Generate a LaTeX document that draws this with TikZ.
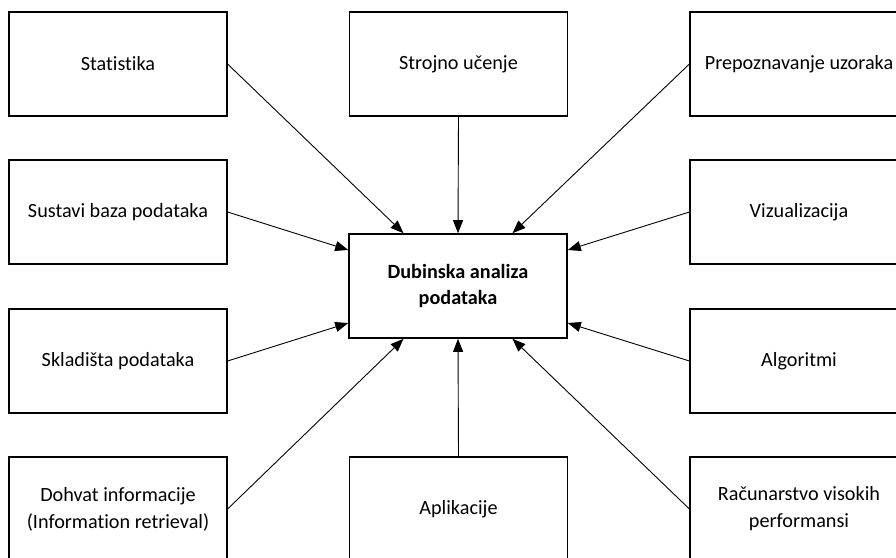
\documentclass[tikz,border=0pt]{standalone}
\usepackage{fontspec}
\setmainfont{Carlito}[Ligatures=NoCommon]
\usetikzlibrary{arrows.meta}
\begin{document}
\begin{tikzpicture}[x=1pt,y=-1pt,
  box/.style={draw,line width=1.2pt,minimum width=218pt,minimum height=104pt,inner sep=0pt,align=center,font=\fontsize{20.2}{27}\selectfont},
  conn/.style={line width=0.9pt,-{Triangle[length=13pt,width=10pt]}}]
\clip (0,0) rectangle (896,557);
\useasboundingbox (0,0) rectangle (896,557);
\node[box] (stat) at (118,64) {Statistika};
\node[box] (stroj) at (458.5,64) {Strojno učenje};
\node[box] (prep) at (799,64) {Prepoznavanje uzoraka};
\node[box] (sust) at (118,212) {Sustavi baza podataka};
\node[box] (viz) at (799,212) {Vizualizacija};
\node[box] (skl) at (118,361) {Skladišta podataka};
\node[box] (alg) at (799,361) {Algoritmi};
\node[box] (doh) at (118,509) {Dohvat informacije\\(Information retrieval)};
\node[box] (apl) at (458.5,509) {Aplikacije};
\node[box] (rac) at (799,509) {Računarstvo visokih\\performansi};
\node[box,line width=1.6pt,font=\fontsize{20.2}{26}\selectfont\bfseries] (c) at (458,286) {Dubinska analiza\\podataka};
\draw[conn] (stat.east) -- ([xshift=-54.5pt]c.north);
\draw[conn] (stroj.south) -- (c.north);
\draw[conn] (prep.west) -- ([xshift=54.5pt]c.north);
\draw[conn] (sust.east) -- ([yshift=36pt]c.west);
\draw[conn] (skl.east) -- ([yshift=-37pt]c.west);
\draw[conn] (viz.west) -- ([yshift=36pt]c.east);
\draw[conn] (alg.west) -- ([yshift=-37pt]c.east);
\draw[conn] (doh.east) -- ([xshift=-54.5pt]c.south);
\draw[conn] (apl.north) -- (c.south);
\draw[conn] (rac.west) -- ([xshift=54.5pt]c.south);
\end{tikzpicture}
\end{document}
